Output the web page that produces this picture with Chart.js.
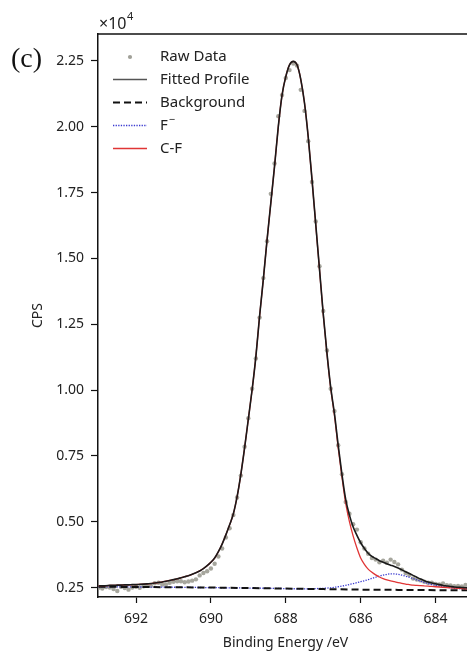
<!DOCTYPE html>
<html>
<head>
<meta charset="utf-8">
<script src="https://cdn.jsdelivr.net/npm/chart.js@4.4.1/dist/chart.umd.min.js"></script>
<style>
html,body{margin:0;padding:0;background:#fff;overflow:hidden;}
#wrap{width:480px;height:652px;}
</style>
</head>
<body>
<div id="wrap"><canvas id="xpsChart" width="480" height="652"></canvas></div>
<script>
// ==========================================
// F 1s XPS fit - panel (c)
// ==========================================

// binding energy of raw / fitted samples (eV)
const energy = [
    693.0,692.9,692.8,692.7,692.6,692.5,692.4,692.3,692.2,692.1,
    692.0,691.9,691.8,691.7,691.6,691.5,691.4,691.3,691.2,691.1,
    691.0,690.9,690.8,690.7,690.6,690.5,690.4,690.3,690.2,690.1,
    690.0,689.9,689.8,689.7,689.6,689.5,689.4,689.3,689.2,689.1,
    689.0,688.9,688.8,688.7,688.6,688.5,688.4,688.3,688.2,688.1,
    688.0,687.9,687.8,687.7,687.6,687.5,687.4,687.3,687.2,687.1,
    687.0,686.9,686.8,686.7,686.6,686.5,686.4,686.3,686.2,686.1,
    686.0,685.9,685.8,685.7,685.6,685.5,685.4,685.3,685.2,685.1,
    685.0,684.9,684.8,684.7,684.6,684.5,684.4,684.3,684.2,684.1,
    684.0,683.9,683.8,683.7,683.6,683.5,683.4,683.3,683.2,683.1
];

// intensities, CPS x10^4
const rawCps = [
    0.249,0.246,0.252,0.250,0.244,0.237,0.253,0.248,0.242,0.250,
    0.253,0.249,0.255,0.258,0.256,0.266,0.268,0.261,0.262,0.268,
    0.272,0.274,0.274,0.270,0.273,0.276,0.281,0.296,0.305,0.312,
    0.322,0.340,0.368,0.398,0.440,0.475,0.525,0.592,0.675,0.785,
    0.893,1.005,1.120,1.275,1.425,1.565,1.745,1.860,2.040,2.120,
    2.185,2.215,2.240,2.232,2.140,2.060,1.945,1.790,1.640,1.470,
    1.300,1.150,1.005,0.920,0.790,0.680,0.575,0.530,0.490,0.470,
    0.422,0.398,0.378,0.362,0.356,0.346,0.352,0.344,0.356,0.347,
    0.338,0.318,0.305,0.298,0.284,0.280,0.277,0.272,0.268,0.268,
    0.264,0.262,0.265,0.259,0.258,0.255,0.256,0.254,0.260,0.256
];

const fittedCps = [
    0.256,0.257,0.257,0.258,0.258,0.259,0.259,0.260,0.260,0.261,
    0.261,0.262,0.263,0.264,0.265,0.267,0.269,0.271,0.274,0.277,
    0.280,0.283,0.287,0.291,0.295,0.300,0.306,0.313,0.322,0.333,
    0.346,0.362,0.386,0.415,0.450,0.488,0.530,0.595,0.680,0.780,
    0.890,1.000,1.125,1.280,1.420,1.570,1.710,1.850,2.000,2.120,
    2.190,2.235,2.248,2.235,2.180,2.090,1.960,1.800,1.630,1.460,
    1.290,1.140,1.010,0.910,0.790,0.680,0.585,0.525,0.480,0.448,
    0.420,0.398,0.380,0.368,0.360,0.352,0.346,0.340,0.335,0.330,
    0.324,0.317,0.310,0.303,0.296,0.289,0.282,0.276,0.271,0.267,
    0.264,0.261,0.258,0.256,0.254,0.252,0.251,0.250,0.249,0.248
];

const cfCps = [
    0.256,0.257,0.257,0.258,0.258,0.259,0.259,0.260,0.260,0.261,
    0.261,0.262,0.263,0.264,0.265,0.267,0.269,0.271,0.274,0.277,
    0.280,0.283,0.287,0.291,0.295,0.300,0.306,0.313,0.322,0.333,
    0.346,0.362,0.386,0.415,0.450,0.488,0.530,0.595,0.680,0.780,
    0.890,1.000,1.125,1.280,1.420,1.570,1.710,1.850,2.000,2.120,
    2.190,2.235,2.248,2.235,2.180,2.090,1.960,1.799,1.628,1.458,
    1.288,1.137,1.006,0.904,0.780,0.670,0.570,0.500,0.445,0.400,
    0.362,0.338,0.320,0.308,0.298,0.290,0.284,0.279,0.275,0.272,
    0.269,0.266,0.263,0.261,0.259,0.258,0.257,0.256,0.255,0.254,
    0.253,0.252,0.251,0.250,0.249,0.248,0.247,0.246,0.245,0.245
];

const fEnergy = [693.0,691.0,689.0,688.0,687.6,687.2,687.0,686.8,686.6,686.4,686.2,686.0,685.8,685.6,685.4,685.2,685.0,684.8,684.6,684.4,684.2,684.0,683.8,683.6,683.4,683.2,683.0];
const fCps = [0.253,0.251,0.248,0.246,0.245,0.246,0.247,0.249,0.253,0.258,0.265,0.272,0.280,0.289,0.297,0.302,0.300,0.293,0.284,0.274,0.265,0.258,0.253,0.249,0.246,0.244,0.243];

const bgEnergy = [693.0,692.0,691.0,690.0,689.0,688.0,687.0,686.0,685.0,684.0,683.0];
const bgCps = [0.253,0.252,0.251,0.250,0.248,0.246,0.244,0.242,0.241,0.240,0.240];

const xTicks = [692,690,688,686,684];
const yTicks = [0.25,0.50,0.75,1.00,1.25,1.50,1.75,2.00,2.25];

const seriesLabels = ["Raw Data","Fitted Profile","Background","F\u207B","C-F"];

const FONT = "'Noto Sans', 'DejaVu Sans', sans-serif";

function pairs(xs, ys){
    return xs.map((x, i) => ({x: x, y: ys[i]}));
}

// =====================================
// frame top, legend, panel letter
// =====================================

const extras = {
    id:"extras",
    afterDraw(chart){
        const ctx = chart.ctx;
        const area = chart.chartArea;
        ctx.save();

        ctx.strokeStyle = "#111";
        ctx.lineWidth = 1.5;
        ctx.beginPath();
        ctx.moveTo(area.left, area.top);
        ctx.lineTo(area.right, area.top);
        ctx.stroke();

        // legend
        const rows = [56.5, 79.5, 102.5, 125.5, 148.5];
        const x0 = 113, x1 = 147, tx = 160;
        ctx.font = "15px " + FONT;
        ctx.textBaseline = "middle";
        ctx.textAlign = "left";
        ctx.fillStyle = "#222";
        seriesLabels.forEach((lab, i) => {
            if(lab === "F\u207B"){
                ctx.fillText("F", tx, rows[i]);
                const fw = ctx.measureText("F").width;
                ctx.font = "11px " + FONT;
                ctx.fillText("\u2212", tx + fw + 1, rows[i] - 6);
                ctx.font = "15px " + FONT;
            } else {
                ctx.fillText(lab, tx, rows[i]);
            }
        });

        ctx.fillStyle = "#a0a098";
        ctx.beginPath();
        ctx.arc(130, rows[0] + 0.5, 2.1, 0, Math.PI * 2);
        ctx.fill();

        const seg = (y, color, width, dash) => {
            ctx.strokeStyle = color;
            ctx.lineWidth = width;
            ctx.setLineDash(dash);
            ctx.beginPath();
            ctx.moveTo(x0, y);
            ctx.lineTo(x1, y);
            ctx.stroke();
        };
        seg(rows[1], "#555", 1.5, []);
        seg(rows[2], "#111", 2, [7, 4]);
        seg(rows[3], "#3a3ad0", 1.3, [1.3, 1.3]);
        seg(rows[4], "#e03535", 1.3, []);
        ctx.setLineDash([]);

        // multiplier
        ctx.fillStyle = "#222";
        ctx.font = "16px " + FONT;
        ctx.fillText("\u00D710", 99, 24);
        const w = ctx.measureText("\u00D710").width;
        ctx.font = "11px " + FONT;
        ctx.fillText("4", 99 + w + 0.5, 17);

        // panel letter
        ctx.font = "28px 'Liberation Serif', 'DejaVu Serif', serif";
        ctx.fillStyle = "#111";
        ctx.fillText("(c)", 11, 60);

        ctx.restore();
    }
};

new Chart(

    document.getElementById("xpsChart"),

    {

        type:"scatter",

        data:{

            datasets:[

                {
                    label:seriesLabels[0],
                    data:pairs(energy, rawCps),
                    showLine:false,
                    pointRadius:2.2,
                    pointBorderWidth:0,
                    pointBackgroundColor:"rgba(150,150,140,0.85)",
                    order:5
                },

                {
                    label:seriesLabels[1],
                    data:pairs(energy, fittedCps),
                    showLine:true,
                    pointRadius:0,
                    borderColor:"#1a1a1a",
                    borderWidth:1.6,
                    cubicInterpolationMode:"monotone",
                    order:1
                },

                {
                    label:seriesLabels[2],
                    data:pairs(bgEnergy, bgCps),
                    showLine:true,
                    pointRadius:0,
                    borderColor:"#111",
                    borderWidth:2,
                    borderDash:[7, 4],
                    order:3
                },

                {
                    label:seriesLabels[3],
                    data:pairs(fEnergy, fCps),
                    showLine:true,
                    pointRadius:0,
                    borderColor:"#3a3ad0",
                    borderWidth:1.3,
                    borderDash:[1.3, 1.3],
                    cubicInterpolationMode:"monotone",
                    order:4
                },

                {
                    label:seriesLabels[4],
                    data:pairs(energy, cfCps),
                    showLine:true,
                    pointRadius:0,
                    borderColor:"#e03535",
                    borderWidth:1.3,
                    cubicInterpolationMode:"monotone",
                    order:2
                }

            ]

        },

        options:{

            responsive:false,

            animation:false,

            events:[],

            layout:{
                padding:{top:34, right:7, left:0, bottom:0}
            },

            plugins:{
                legend:{display:false},
                tooltip:{enabled:false}
            },

            scales:{

                x:{
                    type:"linear",
                    reverse:true,
                    min:683.0,
                    max:693.015,
                    afterBuildTicks:axis => { axis.ticks = xTicks.map(v => ({value:v})); },
                    afterFit:axis => { axis.height = 55; },
                    border:{display:true, color:"#111", width:1.5},
                    grid:{drawOnChartArea:false, drawTicks:true, tickLength:6, tickColor:"#111", tickWidth:1.2},
                    ticks:{
                        padding:8,
                        color:"#222",
                        font:{family:FONT, size:14},
                        callback:v => String(v)
                    },
                    title:{
                        display:true,
                        text:"Binding Energy /eV",
                        color:"#222",
                        font:{family:FONT, size:14},
                        padding:{top:0, bottom:1}
                    }
                },

                y:{
                    min:0.214,
                    max:2.352,
                    afterBuildTicks:axis => { axis.ticks = yTicks.map(v => ({value:v})); },
                    afterFit:axis => { axis.width = 98; },
                    border:{display:true, color:"#111", width:1.5},
                    grid:{drawOnChartArea:false, drawTicks:true, tickLength:7, tickColor:"#111", tickWidth:1.2},
                    ticks:{
                        padding:7,
                        color:"#222",
                        font:{family:FONT, size:14},
                        callback:v => v.toFixed(2)
                    },
                    title:{
                        display:true,
                        text:"CPS",
                        color:"#222",
                        font:{family:FONT, size:14},
                        padding:{top:30, bottom:0}
                    }
                }

            }

        },

        plugins:[extras]

    }

);
</script>
</body>
</html>
